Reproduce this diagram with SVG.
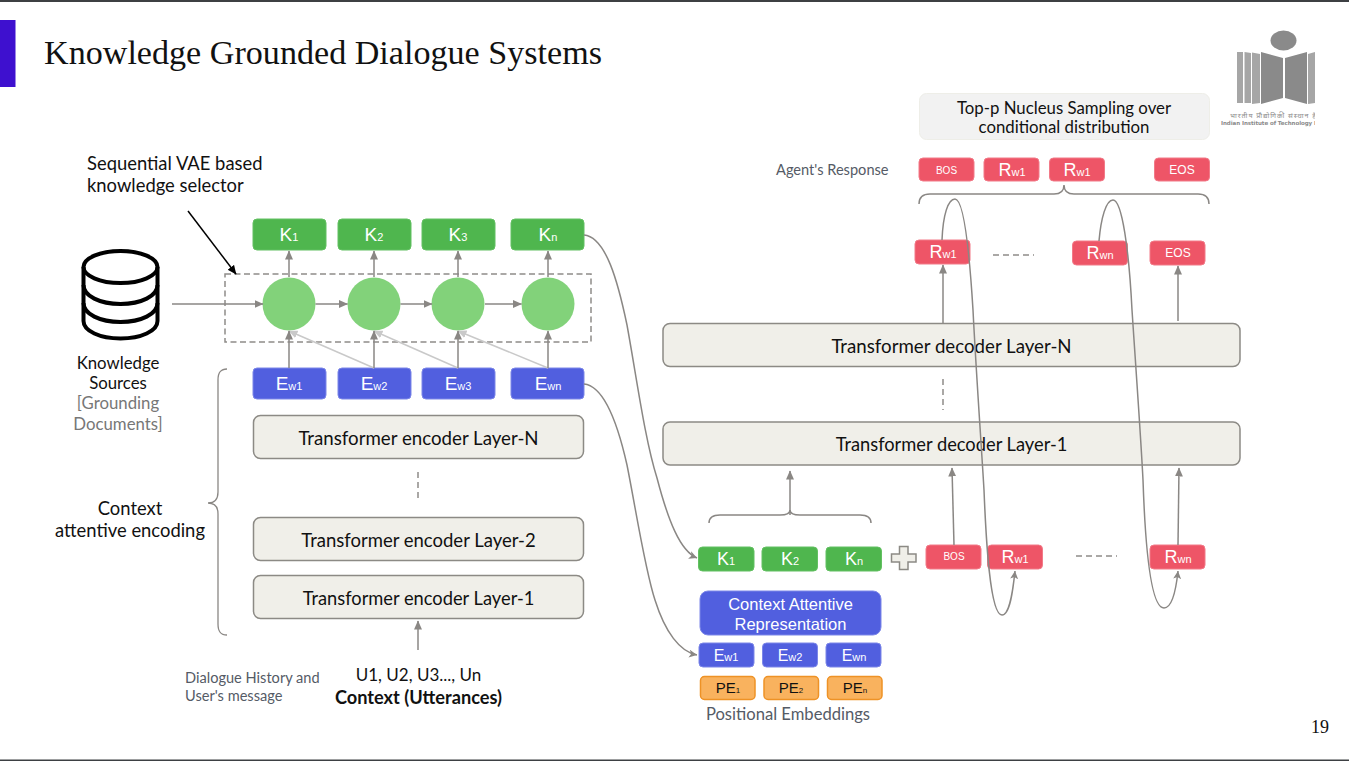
<svg xmlns="http://www.w3.org/2000/svg" width="1349" height="761" viewBox="0 0 1349 761">
<style>
text{font-family:"Lato","Open Sans",sans-serif;fill:#111}
.c{text-anchor:middle}
.b text,text.a{font-family:"Liberation Sans",Arial,sans-serif;fill:#fff;text-anchor:middle}
.s{font-size:11px}
.g{fill:#4fb64e;stroke:#63c062}
.e{fill:#515fdf;stroke:#7c87e8}
.r{fill:#ee5567;stroke:#f27a88}
.o{fill:#f9b25e;stroke:#ee9226;stroke-width:1.5}
.t{fill:#f0efe9;stroke:#8c8a85;stroke-width:1.5}
.n{fill:#82d27a}
.l{fill:none;stroke:#8a8784;stroke-width:1.5}
.h{fill:none;stroke:#c9c9c9;stroke-width:1.5}
.d{fill:none;stroke:#8f8c89;stroke-width:1.5;stroke-dasharray:6 4}
.lab{font-size:18.7px}
.logo{fill:#8a8a8a}
.logo2{fill:#a6a6a6}
.mut{fill:#555b66}
</style>
<defs>
<marker id="a" markerWidth="10" markerHeight="10" refX="8.5" refY="4" orient="auto" markerUnits="userSpaceOnUse"><path d="M0 0L9 4L0 8Z" fill="#8a8784"/></marker>
<marker id="ah" markerWidth="10" markerHeight="10" refX="8.5" refY="4" orient="auto" markerUnits="userSpaceOnUse"><path d="M0 0L9 4L0 8Z" fill="#c9c9c9"/></marker>
<marker id="ak" markerWidth="10" markerHeight="10" refX="8.5" refY="4" orient="auto" markerUnits="userSpaceOnUse"><path d="M0 0L9 4L0 8Z" fill="#000"/></marker>
<marker id="ao" markerWidth="10" markerHeight="10" refX="8" refY="4" orient="auto" markerUnits="userSpaceOnUse"><path d="M0 0L8 4L0 8L2 4Z" fill="#8a8784"/></marker>
<clipPath id="logoclip"><rect x="1215" y="25" width="100" height="110"/></clipPath>
</defs>
<rect width="1349" height="761" fill="#fff"/>
<rect width="1349" height="2" fill="#3d4043"/>
<rect y="759.500" width="1349" height="1.500" fill="#3d4043"/>
<rect y="20" width="15.500" height="67" fill="#3e10cf"/>
<text id="title" x="44" y="64" font-size="33" textLength="558" lengthAdjust="spacingAndGlyphs" style="font-family:'Liberation Serif',serif">Knowledge Grounded Dialogue Systems</text>
<text id="page" x="1320" y="733" font-size="18" class="c" style="font-family:'Liberation Serif',serif">19</text>

<g id="logo" clip-path="url(#logoclip)">
<ellipse class="logo" cx="1283.500" cy="40.500" rx="13" ry="10"/>
<path class="logo2" d="M1237 52L1243 52V103L1237 103ZM1244.500 52L1251 53V103L1244.500 103ZM1252 52.500L1260 54V103L1252 104Z"/>
<path class="logo" d="M1261 52L1283 58V98L1261 104ZM1285 58L1307 52V104L1285 98Z"/>
<path class="logo2" d="M1308 54L1315 52V103L1308 104Z"/>
<text x="1230" y="117.500" font-size="7" style="fill:#8a8a8a;font-family:'Noto Sans','Noto Sans CJK SC',sans-serif" textLength="86">भारतीय प्रौद्योगिकी संस्थान है</text>
<text x="1221" y="125" font-size="5.500" font-weight="700" style="fill:#8a8a8a;font-family:'DejaVu Sans',sans-serif" textLength="95">Indian Institute of Technology I</text>
</g>

<g id="selector"><rect class="d" x="225" y="274" width="366" height="68" style="stroke-dasharray:6 3.500"/></g>
<g id="database" fill="none" stroke="#000" stroke-width="4">
<ellipse cx="120.500" cy="267" rx="37" ry="16"/>
<path d="M83.500 267V321C83.500 331 100 338.500 120.500 338.500S157.500 331 157.500 321V267"/>
<path d="M83.500 285C83.500 296 100 304 120.500 304S157.500 296 157.500 285"/>
<path d="M83.500 303C83.500 314 100 322 120.500 322S157.500 314 157.500 303"/>
</g>

<g id="n1"><circle class="n" cx="289" cy="304" r="26.500"/></g>
<g id="n2"><circle class="n" cx="374" cy="304" r="26.500"/></g>
<g id="n3"><circle class="n" cx="458" cy="304" r="26.500"/></g>
<g id="n4"><circle class="n" cx="548" cy="304" r="26.500"/></g>

<g id="k1" class="b"><rect class="g" x="253" y="219" width="73" height="31" rx="4"/><text x="289" y="241" font-size="19">K<tspan class="s">1</tspan></text></g>
<g id="k2" class="b"><rect class="g" x="338" y="219" width="73" height="31" rx="4"/><text x="374" y="241" font-size="19">K<tspan class="s">2</tspan></text></g>
<g id="k3" class="b"><rect class="g" x="422" y="219" width="73" height="31" rx="4"/><text x="458" y="241" font-size="19">K<tspan class="s">3</tspan></text></g>
<g id="kn" class="b"><rect class="g" x="511" y="219" width="73" height="31" rx="4"/><text x="548" y="241" font-size="19">K<tspan class="s">n</tspan></text></g>

<g id="ew1" class="b"><rect class="e" x="253" y="368" width="73" height="31" rx="4"/><text x="289" y="390" font-size="19">E<tspan class="s">w1</tspan></text></g>
<g id="ew2" class="b"><rect class="e" x="338" y="368" width="73" height="31" rx="4"/><text x="374" y="390" font-size="19">E<tspan class="s">w2</tspan></text></g>
<g id="ew3" class="b"><rect class="e" x="422" y="368" width="73" height="31" rx="4"/><text x="458" y="390" font-size="19">E<tspan class="s">w3</tspan></text></g>
<g id="ewn" class="b"><rect class="e" x="511" y="368" width="73" height="31" rx="4"/><text x="548" y="390" font-size="19">E<tspan class="s">wn</tspan></text></g>

<g id="encN"><rect class="t" x="253.500" y="415.500" width="330" height="43" rx="7"/><text class="c lab" x="418.500" y="444.500">Transformer encoder Layer-N</text></g>
<g id="enc2"><rect class="t" x="253.500" y="517.500" width="330" height="43" rx="7"/><text class="c lab" x="418.500" y="546.500" style="font-size:18.500px">Transformer encoder Layer-2</text></g>
<g id="enc1"><rect class="t" x="253.500" y="575.500" width="330" height="43" rx="7"/><text class="c lab" x="418.500" y="604.500" style="font-size:18.300px">Transformer encoder Layer-1</text></g>
<g id="decN"><rect class="t" x="663" y="323.500" width="577" height="43" rx="7"/><text class="c lab" x="951.500" y="352.500">Transformer decoder Layer-N</text></g>
<g id="dec1"><rect class="t" x="663" y="422" width="577" height="43" rx="7"/><text class="c lab" x="951.500" y="450.500" style="font-size:18.300px">Transformer decoder Layer-1</text></g>

<g id="sk1" class="b"><rect class="g" x="698.500" y="547" width="55.500" height="24" rx="4"/><text x="726" y="565" font-size="18">K<tspan class="s">1</tspan></text></g>
<g id="sk2" class="b"><rect class="g" x="762" y="547" width="55.500" height="24" rx="4"/><text x="790" y="565" font-size="18">K<tspan class="s">2</tspan></text></g>
<g id="skn" class="b"><rect class="g" x="826" y="547" width="55.500" height="24" rx="4"/><text x="854" y="565" font-size="18">K<tspan class="s">n</tspan></text></g>
<g id="plus"><path d="M899.500 546.500H908V554H916V562H908V569.500H899.500V562H891.500V554H899.500Z" fill="#f0efe9" stroke="#8c8a85" stroke-width="1.500"/></g>
<g id="in-bos" class="b"><rect class="r" x="926" y="545" width="55" height="24" rx="4"/><text x="954" y="560" font-size="10">BOS</text></g>
<g id="in-r1" class="b"><rect class="r" x="987.500" y="545" width="55" height="24" rx="4"/><text x="1015" y="563" font-size="18">R<tspan class="s">w1</tspan></text></g>
<g id="in-rn" class="b"><rect class="r" x="1150" y="545" width="55" height="24" rx="4"/><text x="1178" y="563" font-size="18">R<tspan class="s">wn</tspan></text></g>

<g id="car" class="b"><rect class="e" x="700" y="591" width="181" height="44" rx="8"/><text x="790.500" y="610" font-size="16.500">Context Attentive</text><text x="790.500" y="630" font-size="16.500">Representation</text></g>
<g id="sew1" class="b"><rect class="e" x="699" y="643" width="55" height="24" rx="4"/><text x="726" y="661" font-size="16">E<tspan class="s">w1</tspan></text></g>
<g id="sew2" class="b"><rect class="e" x="762.500" y="643" width="55" height="24" rx="4"/><text x="790" y="661" font-size="16">E<tspan class="s">w2</tspan></text></g>
<g id="sewn" class="b"><rect class="e" x="826" y="643" width="55" height="24" rx="4"/><text x="854" y="661" font-size="16">E<tspan class="s">wn</tspan></text></g>
<g id="pe1"><rect class="o" x="700.500" y="676.500" width="54.500" height="23" rx="4"/><text class="a" x="728" y="693" font-size="15" style="fill:#111">PE<tspan font-size="8">1</tspan></text></g>
<g id="pe2"><rect class="o" x="764" y="676.500" width="54.500" height="23" rx="4"/><text class="a" x="791" y="693" font-size="15" style="fill:#111">PE<tspan font-size="8">2</tspan></text></g>
<g id="pen"><rect class="o" x="827.500" y="676.500" width="54.500" height="23" rx="4"/><text class="a" x="855" y="693" font-size="15" style="fill:#111">PE<tspan font-size="8">n</tspan></text></g>

<g id="topbox"><rect x="919.500" y="93.500" width="290" height="46" rx="7" fill="#f2f2f2" stroke="#eeeee8"/><text class="c" x="1064" y="113.500" font-size="16.800">Top-p Nucleus Sampling over</text><text class="c" x="1064" y="132.500" font-size="16.800">conditional distribution</text></g>
<g id="o-bos" class="b"><rect class="r" x="919" y="158" width="55" height="23" rx="4"/><text x="946.500" y="173.500" font-size="10">BOS</text></g>
<g id="o-r1" class="b"><rect class="r" x="984" y="158" width="55" height="23" rx="4"/><text x="1012" y="176" font-size="18">R<tspan class="s">w1</tspan></text></g>
<g id="o-r2" class="b"><rect class="r" x="1049.500" y="158" width="55" height="23" rx="4"/><text x="1077" y="176" font-size="18">R<tspan class="s">w1</tspan></text></g>
<g id="o-eos" class="b"><rect class="r" x="1154.500" y="158" width="55" height="23" rx="4"/><text x="1182" y="174" font-size="12">EOS</text></g>
<g id="m-r1" class="b"><rect class="r" x="915" y="240" width="55" height="24" rx="4"/><text x="943" y="258" font-size="18">R<tspan class="s">w1</tspan></text></g>
<g id="m-rn" class="b"><rect class="r" x="1072.500" y="241" width="55" height="24" rx="4"/><text x="1100" y="259" font-size="18">R<tspan class="s">wn</tspan></text></g>
<g id="m-eos" class="b"><rect class="r" x="1150" y="241" width="55" height="24" rx="4"/><text x="1178" y="257" font-size="12">EOS</text></g>

<g id="connectors">
<path class="l" d="M172 304H263" marker-end="url(#a)"/>
<path class="l" d="M315.500 304H347.500" marker-end="url(#a)"/>
<path class="l" d="M400.500 304H432" marker-end="url(#a)"/>
<path class="l" d="M485 304H521.500" marker-end="url(#a)"/>
<path class="l" d="M289 277V251" marker-end="url(#a)"/>
<path class="l" d="M374 277V251" marker-end="url(#a)"/>
<path class="l" d="M458 277V251" marker-end="url(#a)"/>
<path class="l" d="M548 277V251" marker-end="url(#a)"/>
<path class="h" d="M374 368L289 331" marker-end="url(#ah)"/>
<path class="h" d="M458 368L374 331" marker-end="url(#ah)"/>
<path class="h" d="M548 368L458 331" marker-end="url(#ah)"/>
<path class="l" d="M289 368V331" marker-end="url(#a)"/>
<path class="l" d="M374 368V331" marker-end="url(#a)"/>
<path class="l" d="M458 368V331" marker-end="url(#a)"/>
<path class="l" d="M548 368V331" marker-end="url(#a)"/>
<path d="M188 211L236 274" fill="none" stroke="#000" stroke-width="1.500" marker-end="url(#ak)"/>
<path class="l" d="M418 650V621" marker-end="url(#a)"/>
<path class="d" d="M418 472V502"/>
<path class="l" d="M584 235C606 237 618 282 627 325C637 380 645 440 657 478C668 520 680 551 697 558" marker-end="url(#ao)"/>
<path class="l" d="M584 384C604 386 618 425 627 465C636 510 645 570 655 600C665 632 680 652 697 655" marker-end="url(#ao)"/>
<path class="l" d="M790 515V471" marker-end="url(#a)"/>
<path class="l" d="M709 523C709 517 713 515 720 515H780C786 515 790 513 790 510C790 513 794 515 800 515H860C867 515 871 517 871 523"/>
<path class="l" d="M954 545L952 468" marker-end="url(#a)"/>
<path class="l" d="M1178 545L1179 468" marker-end="url(#a)"/>
<path class="l" d="M943 323V265" marker-end="url(#a)"/>
<path class="l" d="M1178 321V266" marker-end="url(#a)"/>
<path class="d" d="M943 379V410"/>
<path class="d" d="M993 255H1034"/>
<path class="d" d="M1076 556H1117"/>
<path class="l" d="M942 240C943 215 948 199 955 199C963 199 969 245 973 310C976 370 981 440 984 490C986 540 990 615 1002 615C1010 615 1013 590 1015 571" marker-end="url(#ao)"/>
<path class="l" d="M1099 241C1101 218 1106 200 1113 200C1122 200 1129 250 1132 310C1136 370 1141 440 1143 480C1145 540 1150 608 1164 608C1172 608 1176 590 1178 571" marker-end="url(#ao)"/>
<path class="l" d="M919 204C919 197 923 194 930 194H1054C1060 194 1064 191 1064 185C1064 191 1068 194 1074 194H1198C1205 194 1209 197 1209 204"/>
<path class="l" d="M227 369C220 369 218 373 218 380V492C218 499 215 503 208 503C215 503 218 507 218 514V624C218 631 220 635 227 635" style="stroke-width:1.300"/>
</g>

<g id="labels">
<text x="87" y="170" font-size="18.400">Sequential VAE based</text>
<text x="87" y="192" font-size="18.400">knowledge selector</text>
<text class="c" x="118" y="369" font-size="16.800">Knowledge</text>
<text class="c" x="118" y="389" font-size="16.800">Sources</text>
<text class="c" x="118" y="409" font-size="16.800" style="fill:#777">[Grounding</text>
<text class="c" x="118" y="430" font-size="16.800" style="fill:#777">Documents]</text>
<text class="c" x="130" y="514.500" font-size="18.400">Context</text>
<text class="c" x="130" y="536.500" font-size="18.400">attentive encoding</text>
<text x="185" y="682.500" font-size="14.600" style="fill:#555b66">Dialogue History and</text>
<text x="185" y="700.500" font-size="14.600" style="fill:#555b66">User's message</text>
<text class="c" x="418.500" y="681" font-size="17">U1, U2, U3..., Un</text>
<text class="c" x="418.500" y="703.500" font-size="18.200" font-weight="700">Context (Utterances)</text>
<text class="c" x="788" y="719.500" font-size="16.600" style="fill:#555b66">Positional Embeddings</text>
<text x="776" y="174.500" font-size="14.600" style="fill:#555b66">Agent's Response</text>
</g>
</svg>
